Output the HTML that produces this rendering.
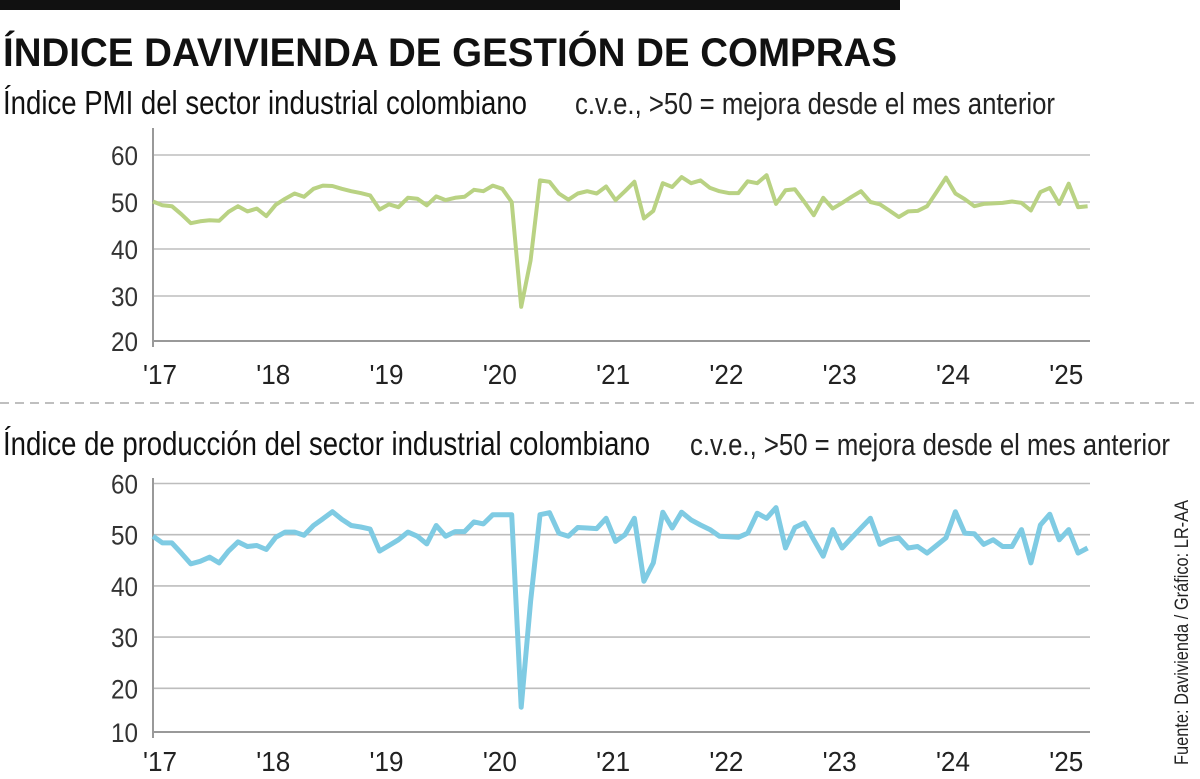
<!DOCTYPE html>
<html><head><meta charset="utf-8"><style>
html,body{margin:0;padding:0;background:#fff;}
svg{display:block;font-family:"Liberation Sans",sans-serif;}
</style></head><body>
<svg id="chart" width="1200" height="779" viewBox="0 0 1200 779">
<rect x="0" y="0" width="900" height="10" fill="#111"/>
<text x="3" y="66" font-size="40" font-weight="bold" fill="#111" textLength="894" lengthAdjust="spacingAndGlyphs">ÍNDICE DAVIVIENDA DE GESTIÓN DE COMPRAS</text>
<text x="3" y="114" font-size="33" fill="#111" textLength="524" lengthAdjust="spacingAndGlyphs">Índice PMI del sector industrial colombiano</text>
<text x="575" y="114" font-size="31" fill="#222" textLength="480" lengthAdjust="spacingAndGlyphs">c.v.e., &gt;50 = mejora desde el mes anterior</text>
<line x1="0" y1="403" x2="1200" y2="403" stroke="#aaa" stroke-width="1.5" stroke-dasharray="9,6"/>
<text x="3" y="455" font-size="33" fill="#111" textLength="647" lengthAdjust="spacingAndGlyphs">Índice de producción del sector industrial colombiano</text>
<text x="690" y="455" font-size="31" fill="#222" textLength="480" lengthAdjust="spacingAndGlyphs">c.v.e., &gt;50 = mejora desde el mes anterior</text>
<text transform="translate(1188,765) rotate(-90)" font-size="19" fill="#222" textLength="265" lengthAdjust="spacingAndGlyphs">Fuente: Davivienda / Gráfico: LR-AA</text>
<g id="top"></g>
<g id="bot"></g>
</svg>
<script>
const yearLabels = ["'17","'18","'19","'20","'21","'22","'23","'24","'25"];
const pmiTicks = [20,30,40,50,60];
const prodTicks = [10,20,30,40,50,60];
const pmiValues = [50.1,49.3,49.1,47.4,45.5,45.9,46.1,46.0,47.9,49.1,48.0,48.6,
47.0,49.4,50.7,51.8,51.1,52.8,53.5,53.4,52.8,52.3,51.9,51.4,
48.4,49.5,48.9,50.9,50.7,49.3,51.2,50.4,50.9,51.1,52.6,52.3,
53.5,52.8,50.0,27.7,37.6,54.6,54.3,51.8,50.5,51.8,52.3,51.8,
53.3,50.4,52.3,54.3,46.5,48.1,54.0,53.2,55.3,54.0,54.6,53.0,
52.3,51.9,51.9,54.4,54.0,55.7,49.6,52.5,52.7,50.0,47.2,50.9,
48.6,49.8,51.1,52.3,50.0,49.5,48.2,46.8,48.0,48.1,49.1,52.1,
55.2,51.8,50.6,49.1,49.6,49.7,49.8,50.1,49.8,48.2,52.1,53.0,
49.6,53.9,48.9,49.1];
const prodValues = [49.7,48.4,48.4,46.4,44.3,44.8,45.6,44.5,46.8,48.6,47.7,47.9,
47.1,49.5,50.5,50.5,49.9,51.8,53.1,54.5,53.0,51.8,51.5,51.1,
46.8,47.9,49.0,50.5,49.7,48.2,51.8,49.7,50.6,50.6,52.5,52.1,
53.9,53.9,53.9,16.3,37.0,53.9,54.3,50.3,49.7,51.4,51.3,51.2,
53.2,48.7,50.0,53.2,40.9,44.5,54.4,51.3,54.4,52.9,51.9,51.0,
49.7,49.6,49.5,50.3,54.2,53.2,55.3,47.4,51.4,52.3,49.0,45.8,
51.0,47.4,49.4,51.3,53.2,48.1,49.0,49.4,47.4,47.7,46.4,47.9,
49.4,54.5,50.3,50.2,48.1,49.0,47.7,47.7,51.0,44.5,51.9,54.0,
49.0,51.0,46.4,47.4];

const NS="http://www.w3.org/2000/svg";
const X0=153, MONTH=9.44, XEND=1090;
function xScale(i){return X0+i*MONTH;}
function mk(tag,attrs,parent){const e=document.createElementNS(NS,tag);for(const k in attrs)e.setAttribute(k,attrs[k]);parent.appendChild(e);return e;}

function panel(g,values,ticks,v60y,pxPer10,axisTop,baseY,labelY,color,prefix,sw){
  const yScale=v=>v60y+(60-v)*pxPer10/10;
  ticks.forEach(t=>{
    const y=Math.min(yScale(t),baseY);
    if(y<baseY-1){
      const l=mk('line',{x1:X0,x2:XEND,y1:y,y2:y,stroke:'#bdbdbd','stroke-width':1.6},g);
      
      
    }
    const tx=mk('text',{x:138,y:y+10,'font-size':27,fill:'#333','text-anchor':'end',textLength:27,lengthAdjust:'spacingAndGlyphs'},g);
    tx.textContent=t;
    
    
  });
  const ax=mk('line',{x1:X0,x2:X0,y1:axisTop,y2:baseY+6,stroke:'#999','stroke-width':2},g);
  
  
  const bx=mk('line',{x1:X0,x2:XEND,y1:baseY,y2:baseY,stroke:'#999','stroke-width':2},g);
  
  
  yearLabels.forEach((lab,k)=>{
    const t=mk('text',{x:xScale(k*12)-10,y:labelY,'font-size':28,fill:'#222',textLength:34,lengthAdjust:'spacingAndGlyphs'},g);
    t.textContent=lab;
    
    
  });
  const pts=values.map((v,i)=>xScale(i).toFixed(1)+','+yScale(v).toFixed(1)).join(' ');
  const p=mk('polyline',{points:pts,fill:'none',stroke:color,'stroke-width':sw,'stroke-linejoin':'round'},g);
  
  
}
panel(document.getElementById('top'),pmiValues,pmiTicks,155,47,128,341,384,'#b9d283','pmi',4);
panel(document.getElementById('bot'),prodValues,prodTicks,483.5,51.2,478,732,771,'#7fcbe3','production',5);
</script>
</body></html>
